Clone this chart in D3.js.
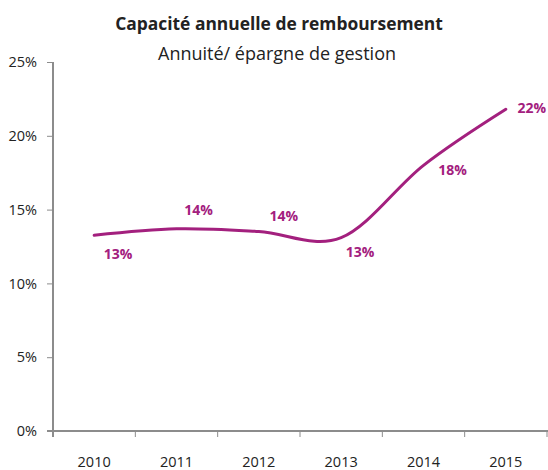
<!DOCTYPE html>
<html>
<head>
<meta charset="utf-8">
<script src="https://cdn.jsdelivr.net/npm/d3@7"></script>
<style>
  body { margin: 0; background: #fff; }
  svg text { font-family: "Open Sans", sans-serif; }
</style>
</head>
<body>
<div id="chart"></div>
<script>
const years = ["2010", "2011", "2012", "2013", "2014", "2015"];
const ratios = [0.1326, 0.137, 0.1352, 0.131, 0.18, 0.218];
const valueLabels = ["13%", "14%", "14%", "13%", "18%", "22%"];
const yTicks = [0, 0.05, 0.1, 0.15, 0.2, 0.25];
const title = "Capacité annuelle de remboursement";
const subtitle = "Annuité/ épargne de gestion";

const w = 548, h = 470;
const lineColor = "#a3207e";
const axisColor = "#8c8c8c";
const textColor = "#222";

const svg = d3.select("#chart")
  .append("svg")
  .attr("width", w)
  .attr("height", h);

const margin = { left: 53, right: 1, top: 62, bottom: 39 };

const xScale = d3.scaleBand()
  .domain(years)
  .range([margin.left, w - margin.right]);

const yScale = d3.scaleLinear()
  .domain([0, 0.25])
  .range([h - margin.bottom, margin.top]);

// titles
svg.append("text")
  .attr("x", 279).attr("y", 30)
  .attr("text-anchor", "middle")
  .attr("font-size", 17.4)
  .attr("font-weight", "bold")
  .attr("fill", textColor)
  .text(title);
svg.append("text")
  .attr("x", 277).attr("y", 60)
  .attr("text-anchor", "middle")
  .attr("font-size", 18)
  .attr("fill", textColor)
  .text(subtitle);

// y axis
const yAxis = svg.append("g")
  .attr("transform", `translate(${margin.left},0)`)
  .call(d3.axisLeft(yScale).tickValues(yTicks).tickFormat(d3.format(".0%")).tickSize(6).tickSizeOuter(0).tickPadding(10));
yAxis.select(".domain").attr("stroke", axisColor).attr("stroke-width", 2)
  .attr("d", `M0,${yScale(0.25)}V${yScale(0) + 6}`);
yAxis.selectAll("line").attr("stroke", axisColor);
yAxis.selectAll("text").attr("fill", textColor).attr("font-size", 14.5);

// x axis (ticks at category boundaries)
const xAxis = svg.append("g")
  .attr("transform", `translate(0,${yScale(0)})`);
xAxis.append("line")
  .attr("x1", margin.left - 6).attr("x2", w)
  .attr("stroke", axisColor).attr("stroke-width", 2);
const bounds = years.map(y => xScale(y)).concat([xScale.range()[1]]);
xAxis.selectAll(".tick")
  .data(bounds.slice(1))
  .join("line")
  .attr("x1", d => d).attr("x2", d => d)
  .attr("y1", 0).attr("y2", 6)
  .attr("stroke", axisColor);
xAxis.selectAll(".lbl")
  .data(years)
  .join("text")
  .attr("x", d => xScale(d) + xScale.bandwidth() / 2)
  .attr("y", 36)
  .attr("text-anchor", "middle")
  .attr("font-size", 14.5)
  .attr("fill", textColor)
  .text(d => d);

// line
const pts = years.map((y, i) => ({ year: y, v: ratios[i], label: valueLabels[i] }));
const cx = d => xScale(d.year) + xScale.bandwidth() / 2;
const line = d3.line()
  .x(cx)
  .y(d => yScale(d.v))
  .curve(d3.curveCardinal.tension(0));
svg.append("path")
  .datum(pts)
  .attr("fill", "none")
  .attr("stroke", lineColor)
  .attr("stroke-width", 3)
  .attr("stroke-linecap", "round")
  .attr("d", line);

// value labels, placed like the original
const labelOffsets = [[24, 24], [22, -14], [25, -10], [19, 19], [29, 10], [26, 4]];
svg.selectAll(".val")
  .data(pts)
  .join("text")
  .attr("x", (d, i) => cx(d) + labelOffsets[i][0])
  .attr("y", (d, i) => yScale(d.v) + labelOffsets[i][1])
  .attr("text-anchor", "middle")
  .attr("font-size", 14)
  .attr("font-weight", "bold")
  .attr("fill", lineColor)
  .text(d => d.label);
</script>
</body>
</html>
